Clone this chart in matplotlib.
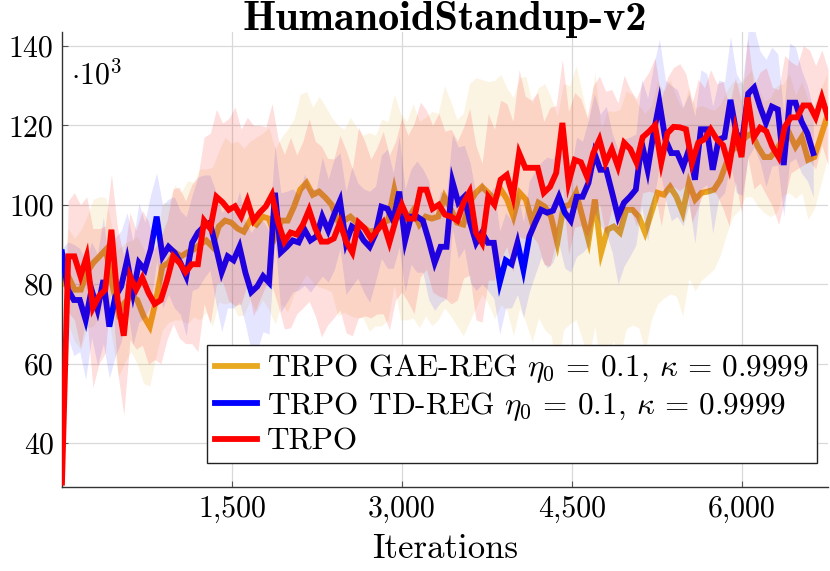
import numpy as np
import matplotlib
matplotlib.use("Agg")
import matplotlib.pyplot as plt

# ---------------- data (returns in thousands) ----------------
gold_mean = [80, 82, 78.6, 78.6, 83, 85.4, 87, 88.7, 80, 72.8,
             75.3, 77, 76, 72, 69.3, 76, 84.4, 85.4, 88, 87,
             88, 88.7, 90, 91, 89.4, 94.5, 96, 95.5, 94, 93.2,
             96, 95, 97, 96.5, 92, 96, 96, 99.5, 103.8, 105.5,
             102.5, 103.3, 101.8, 100, 96, 96, 97, 95.5, 94.5, 93.2,
             93.5, 95.5, 96, 103.8, 97, 96, 98.5, 95, 97, 96.5,
             97, 102, 99, 95.5, 95, 100.5, 103, 104.5, 103, 101.3,
             103.8, 101.3, 97, 103, 101.3, 95.5, 100.5, 99.5, 97, 90.4,
             99.5, 100, 103, 97, 91, 101.3, 88, 93.7, 94.5, 93,
             98.7, 98.7, 97, 93, 98, 103, 102.5, 104.5, 102, 98,
             105.5, 101.3, 103, 103.3, 103.8, 106.3, 110.6, 114, 114.6, 117,
             118, 114.6, 112, 112, 114, 116.4, 118, 114.6, 117, 111.3,
             112, 117, 122]
gold_sd = [1,
           12, 13, 15, 14, 16, 15, 13, 14, 16, 15,
           14, 16, 17, 15, 14, 16, 15, 17, 16, 18,
           17, 19, 18, 20, 19, 21, 20, 22, 21, 20,
           22, 21, 23, 22, 21, 23, 22, 24, 23, 22,
           24, 23, 22, 24, 23, 25, 24, 23, 25, 24,
           26, 25, 24, 26, 25, 27, 26, 25, 27, 26,
           28, 27, 26, 28, 30, 29, 27, 28, 30, 29,
           28, 30, 29, 31, 30, 29, 31, 30, 32, 31,
           30, 32, 31, 30, 32, 31, 30, 29, 31, 30,
           29, 28, 30, 27, 28, 26, 27, 25, 26, 24,
           23, 22, 21, 20, 19, 18, 17, 16, 15, 16,
           15, 14, 15, 16, 14, 15, 13, 14, 15, 13,
           12, 11]
gold_last_iter = 6750

blue_mean = [88, 78.6, 76, 76, 71, 78.6, 73.6, 81, 69.3, 76.8,
             79.4, 86, 77.8, 85.4, 83.6, 88.7, 97, 87, 89.4, 88,
             85.4, 82, 90.4, 93, 94.5, 95.5, 89.4, 83, 87, 86,
             89.4, 82.9, 78, 79.4, 82, 80.4, 103, 88, 89.4, 91,
             90.5, 93.7, 91, 92, 97, 93.5, 97.5, 101, 90.4, 94.5,
             93.5, 91, 89.4, 92.7, 99.5, 99, 96, 103.3, 91, 97,
             97, 96, 91, 85.4, 89.4, 89.4, 105.8, 100.5, 102, 95.5,
             90.4, 93, 90.4, 90.4, 80.4, 86, 85, 90.4, 83.6, 92,
             95.5, 98.7, 98, 98.5, 102, 98, 96, 102, 102, 105.5,
             113, 108.8, 108.8, 103, 97, 100.5, 102, 103.8, 115.6, 108.8,
             118, 125.7, 116.4, 113, 113, 109.6, 114, 106.3, 119, 119,
             108.8, 116.4, 117, 126.4, 118, 116.4, 128, 129.5, 124.7, 120.6,
             124.7, 124, 110, 125.7, 125.7, 121, 118, 113]
blue_sd = [1,
           12, 14, 13, 15, 12, 14, 16, 13, 15, 14,
           12, 13, 15, 12, 14, 11, 13, 12, 14, 13,
           15, 12, 14, 13, 12, 14, 15, 13, 12, 14,
           13, 15, 16, 14, 13, 12, 15, 14, 13, 12,
           14, 13, 12, 15, 13, 14, 12, 13, 15, 12,
           13, 14, 12, 13, 15, 12, 14, 13, 12, 14,
           13, 15, 12, 14, 13, 12, 14, 13, 15, 12,
           13, 12, 14, 13, 12, 11, 13, 12, 14, 13,
           12, 14, 13, 12, 14, 13, 15, 14, 16, 15,
           14, 16, 15, 17, 16, 15, 14, 16, 18, 17,
           16, 15, 17, 16, 15, 14, 16, 15, 14, 16,
           15, 14, 16, 15, 14, 16, 15, 14, 16, 15,
           14, 13, 15, 14, 13, 12, 11]
blue_last_iter = 6630

red_mean = [30, 87, 87, 82, 87, 74, 77, 78.6, 93.7, 76,
            67, 82, 78.6, 81.6, 77.8, 75, 76, 81, 87, 85.4,
            83, 85, 85, 96, 94, 102, 100.6, 98.7, 99.6, 97,
            101, 96, 98, 99.6, 102.5, 95.5, 90.7, 93, 92.5, 95,
            98.7, 94, 90.7, 90.7, 91.5, 95.5, 90.7, 88, 95.5, 94,
            91.5, 93.5, 95.5, 90.5, 96, 100, 96.5, 96.5, 103.8, 103.8,
            99, 100, 97.5, 97, 96, 100.5, 103.3, 93, 90.4, 102,
            100, 106.3, 107.5, 102, 113, 109.3, 109.3, 109.3, 103, 104.5,
            108, 120.6, 105.5, 111.3, 110.7, 107, 113, 116.4, 110.6, 114,
            109.6, 115.6, 114, 110.6, 117, 118.4, 120, 110.6, 118, 119.6,
            119.5, 119, 110.6, 115.6, 116.5, 119, 116.5, 115, 109.6, 119,
            112, 127, 117, 119.4, 118.5, 114.6, 112, 119.6, 122, 122,
            125, 125, 122, 127, 122]
red_sd = [1,
          14, 16, 18, 15, 20, 17, 16, 14, 18, 20,
          16, 15, 17, 18, 14, 16, 15, 17, 19, 18,
          20, 22, 21, 24, 22, 20, 23, 25, 22, 21,
          24, 22, 20, 23, 21, 22, 24, 20, 21, 23,
          22, 24, 21, 20, 22, 23, 21, 24, 22, 20,
          21, 23, 22, 20, 22, 21, 24, 22, 20, 21,
          23, 21, 22, 20, 19, 21, 22, 20, 21, 19,
          20, 18, 19, 21, 18, 17, 19, 18, 20, 17,
          16, 18, 17, 16, 15, 17, 16, 18, 15, 16,
          17, 15, 16, 14, 15, 17, 16, 14, 15, 16,
          14, 15, 16, 13, 15, 14, 16, 15, 13, 14,
          15, 13, 14, 16, 15, 17, 18, 14, 13, 15,
          14, 13, 12, 12]
red_last_iter = 6760

labels = [r"TRPO GAE-REG $\eta_0\,=\,0.1$, $\kappa\,=\,0.9999$",
          r"TRPO TD-REG $\eta_0\,=\,0.1$, $\kappa\,=\,0.9999$",
          "TRPO"]
colors = ["#E8A820", "#0000FF", "#FF0000"]
band_alpha = [0.12, 0.10, 0.13]

x_ticks = [1500, 3000, 4500, 6000]
x_ticklabels = ["1,500", "3,000", "4,500", "6,000"]
y_ticks = [40, 60, 80, 100, 120, 140]
y_ticklabels = ["40", "60", "80", "100", "120", "140"]

title = "HumanoidStandup-v2"
xlabel = "Iterations"

# ---------------- style ----------------
plt.rcParams["font.family"] = ["cmr10"]
plt.rcParams["mathtext.fontset"] = "cm"
plt.rcParams["axes.formatter.use_mathtext"] = True

W, H = 830, 571
fig = plt.figure(figsize=(W / 100, H / 100), dpi=100)
ax = fig.add_axes([62 / W, 1 - 487 / H, 766 / W, 455 / H])

series = [
    (gold_mean, gold_sd, gold_last_iter),
    (blue_mean, blue_sd, blue_last_iter),
    (red_mean, red_sd, red_last_iter),
]

z = 2
handles = []
for (m, s, last), c, lab, a in zip(series, colors, labels, band_alpha):
    m = np.asarray(m, float)
    s = np.asarray(s, float)
    it = np.linspace(0, last, len(m))
    h, = ax.plot(it, m, color=c, lw=4.2, solid_joinstyle="miter", zorder=z, label=lab)
    ax.fill_between(it, m - s, m + s, color=c, alpha=a, lw=0, zorder=z + 1)
    handles.append(h)
    z += 2

ax.set_xlim(0, 6760)
ax.set_ylim(28.9, 143.5)
ax.set_xticks(x_ticks, x_ticklabels)
ax.set_yticks(y_ticks, y_ticklabels)
ax.tick_params(labelsize=21.5, direction="in", length=4, width=0.8, color="#555555")
ax.tick_params(axis="x", pad=6)
ax.tick_params(axis="y", pad=6)
ax.grid(True, color="#d9d9d9", lw=0.9, zorder=0)
ax.set_axisbelow(True)
for sp in ["top", "right"]:
    ax.spines[sp].set_visible(False)
for sp in ["left", "bottom"]:
    ax.spines[sp].set_color("#333333")
    ax.spines[sp].set_linewidth(1.0)

ax.text(0.012, 0.94, r"$\cdot 10^3$", transform=ax.transAxes, ha="left", va="top",
        fontsize=21.5)

leg = ax.legend(handles=handles, loc="lower right", bbox_to_anchor=(0.985, 0.052),
                fontsize=22.5, frameon=True, fancybox=False, framealpha=1,
                edgecolor="#222222", handlelength=1.35, handletextpad=0.3,
                labelspacing=0.15, borderpad=0.25, borderaxespad=0)
leg.get_frame().set_linewidth(1.0)
leg.set_zorder(20)

fig.text(445 / W, 1 - 20 / H, title, ha="center", va="center", fontsize=30.5,
         family=["cmb10"])
fig.text(445 / W, 1 - 549 / H, xlabel, ha="center", va="center", fontsize=25)

fig.savefig("out.png", dpi=100)
